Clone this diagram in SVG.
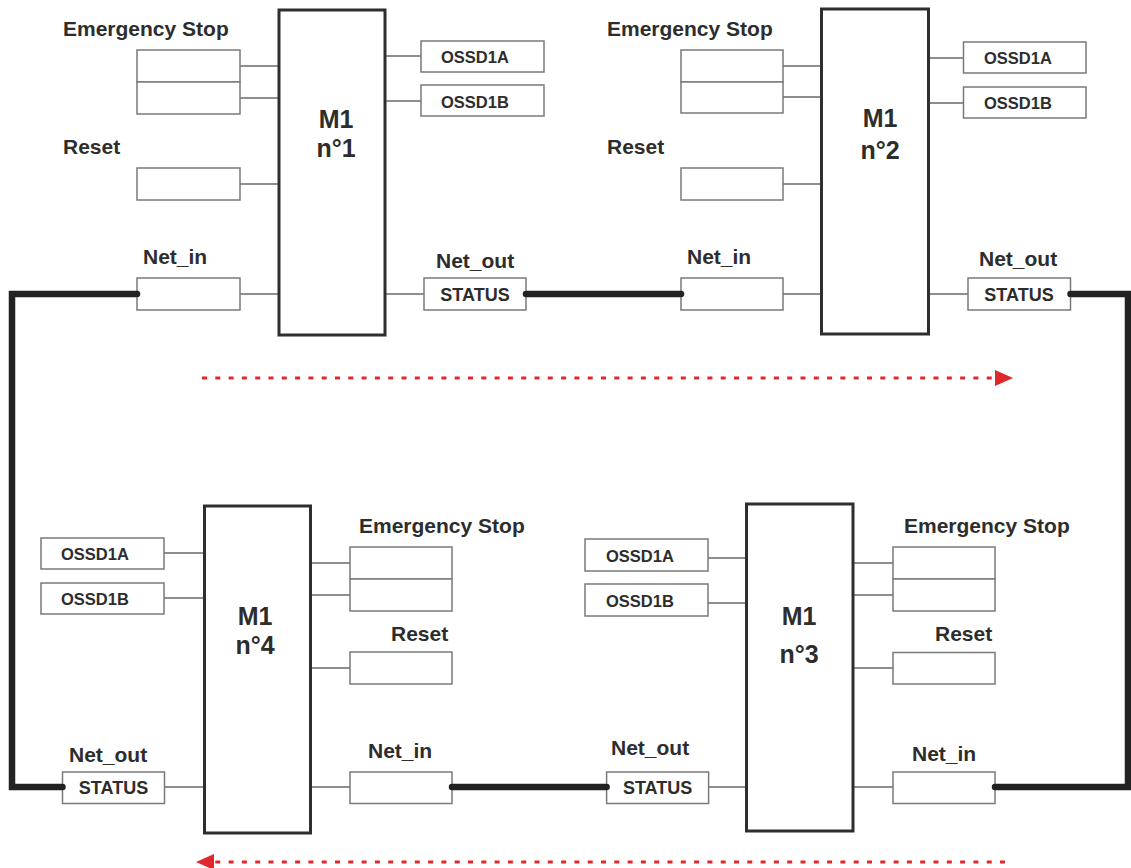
<svg xmlns="http://www.w3.org/2000/svg" width="1131" height="868" viewBox="0 0 1131 868">
  <defs>
    <style>
      .mod { fill: #fff; stroke: #2e2e2e; stroke-width: 3; }
      .box { fill: #fff; stroke: #7a7a7a; stroke-width: 1.5; }
      .wire { stroke: #6a6a6a; stroke-width: 1.3; fill: none; }
      .lbl { font-family: "Liberation Sans", Arial, sans-serif; font-weight: bold; font-size: 21px; fill: #2d2d2d; }
      .mt { font-family: "Liberation Sans", Arial, sans-serif; font-weight: bold; font-size: 25px; fill: #2d2d2d; text-anchor: middle; }
      .io { font-family: "Liberation Sans", Arial, sans-serif; font-weight: bold; font-size: 16.5px; fill: #2d2d2d; }
      .st { font-family: "Liberation Sans", Arial, sans-serif; font-weight: bold; font-size: 18px; fill: #2d2d2d; text-anchor: middle; }
      .bus { stroke: #222; stroke-width: 6.5; fill: none; stroke-linecap: round; stroke-linejoin: miter; }
      .flow { stroke: #e0282c; stroke-width: 3; stroke-dasharray: 5 8.3; fill: none; }
    </style>
    <marker id="arrow" viewBox="0 0 18 16" refX="0" refY="8" markerWidth="18" markerHeight="16" markerUnits="userSpaceOnUse" orient="auto">
      <path d="M0,0 L18,8 L0,16 Z" fill="#e0282c"/>
    </marker>
  </defs>
  <rect width="1131" height="868" fill="#fff"/>

  <g id="module1">
    <path class="wire" d="M240,66 H279 M240,98 H279 M240,184 H279 M240,294 H279 M385,56 H421 M385,101 H421 M385,294 H424"/>
    <rect class="mod" x="279" y="10" width="106" height="325"/>
    <text class="mt" x="336" y="128">M1</text>
    <text class="mt" x="336" y="157">n°1</text>
    <text class="lbl" x="63" y="36">Emergency Stop</text>
    <rect class="box" x="137" y="50" width="103" height="32"/>
    <rect class="box" x="137" y="82" width="103" height="32"/>
    <text class="lbl" x="63" y="154">Reset</text>
    <rect class="box" x="137" y="168" width="103" height="32"/>
    <text class="lbl" x="143" y="264">Net_in</text>
    <rect class="box" x="137" y="278" width="103" height="32"/>
    <rect class="box" x="421" y="41" width="123" height="31"/>
    <text class="io" x="441" y="63">OSSD1A</text>
    <rect class="box" x="421" y="85" width="123" height="31"/>
    <text class="io" x="441" y="108">OSSD1B</text>
    <text class="lbl" x="436" y="268">Net_out</text>
    <rect class="box" x="424" y="278" width="102" height="32"/>
    <text class="st" x="475" y="301">STATUS</text>
  </g>

  <g id="module2">
    <path class="wire" d="M783,66 H821.5 M783,97 H821.5 M783,184 H821.5 M783,294 H821.5 M928.5,58 H963.5 M928.5,103 H963.5 M928.5,294 H968"/>
    <rect class="mod" x="821.5" y="9" width="107" height="325"/>
    <text class="mt" x="880" y="127">M1</text>
    <text class="mt" x="880" y="159">n°2</text>
    <text class="lbl" x="607" y="36">Emergency Stop</text>
    <rect class="box" x="681" y="50" width="102" height="32"/>
    <rect class="box" x="681" y="82" width="102" height="31"/>
    <text class="lbl" x="607" y="154">Reset</text>
    <rect class="box" x="681" y="168" width="102" height="32"/>
    <text class="lbl" x="687" y="264">Net_in</text>
    <rect class="box" x="681" y="278" width="102" height="32"/>
    <rect class="box" x="963.5" y="42" width="122.5" height="31"/>
    <text class="io" x="984" y="64">OSSD1A</text>
    <rect class="box" x="963.5" y="87" width="122.5" height="31"/>
    <text class="io" x="984" y="109">OSSD1B</text>
    <text class="lbl" x="979" y="266">Net_out</text>
    <rect class="box" x="968" y="278" width="102.5" height="32"/>
    <text class="st" x="1019" y="301">STATUS</text>
  </g>

  <g id="module3">
    <path class="wire" d="M708,558 H746.5 M708,603 H746.5 M853,563 H893 M853,595 H893 M853,668 H893 M853,787 H893 M708.6,787 H746.5"/>
    <rect class="mod" x="746.5" y="504" width="106.5" height="327"/>
    <text class="mt" x="799" y="625">M1</text>
    <text class="mt" x="799" y="663">n°3</text>
    <rect class="box" x="585" y="539" width="123" height="32"/>
    <text class="io" x="606" y="562">OSSD1A</text>
    <rect class="box" x="585" y="584" width="123" height="32"/>
    <text class="io" x="606" y="607">OSSD1B</text>
    <text class="lbl" x="904" y="533">Emergency Stop</text>
    <rect class="box" x="893" y="547" width="102" height="32"/>
    <rect class="box" x="893" y="579" width="102" height="32"/>
    <text class="lbl" x="935" y="641">Reset</text>
    <rect class="box" x="893" y="652.5" width="102" height="31.5"/>
    <text class="lbl" x="912" y="761">Net_in</text>
    <rect class="box" x="893" y="772" width="102" height="31.5"/>
    <text class="lbl" x="611" y="755">Net_out</text>
    <rect class="box" x="606.6" y="772" width="102" height="31.5"/>
    <text class="st" x="657.6" y="794">STATUS</text>
  </g>

  <g id="module4">
    <path class="wire" d="M164,553 H204.5 M164,598 H204.5 M310.5,563 H350 M310.5,595 H350 M310.5,668 H350 M310.5,787 H350 M164.5,787 H204.5"/>
    <rect class="mod" x="204.5" y="506" width="106" height="327"/>
    <text class="mt" x="255" y="625">M1</text>
    <text class="mt" x="255" y="654">n°4</text>
    <rect class="box" x="41" y="538" width="123" height="31"/>
    <text class="io" x="61" y="560">OSSD1A</text>
    <rect class="box" x="41" y="583" width="123" height="31"/>
    <text class="io" x="61" y="605">OSSD1B</text>
    <text class="lbl" x="359" y="533">Emergency Stop</text>
    <rect class="box" x="350" y="547" width="102" height="32"/>
    <rect class="box" x="350" y="579" width="102" height="32"/>
    <text class="lbl" x="391" y="641">Reset</text>
    <rect class="box" x="350" y="652" width="102" height="32"/>
    <text class="lbl" x="368" y="758">Net_in</text>
    <rect class="box" x="350" y="772" width="102" height="31.5"/>
    <text class="lbl" x="69" y="762">Net_out</text>
    <rect class="box" x="62.5" y="772" width="102" height="31.5"/>
    <text class="st" x="113.5" y="794">STATUS</text>
  </g>

  <g id="connectors">
    <path class="bus" d="M137,294 H12 V787 H62.5"/>
    <path class="bus" d="M526,294 H681"/>
    <path class="bus" d="M1070.5,294 H1128 V787 H995"/>
    <path class="bus" d="M606.6,787 H452"/>
    <line class="flow" x1="202" y1="378" x2="995" y2="378" marker-end="url(#arrow)"/>
    <line class="flow" x1="1005" y1="862" x2="214" y2="862" marker-end="url(#arrow)"/>
  </g>
</svg>
